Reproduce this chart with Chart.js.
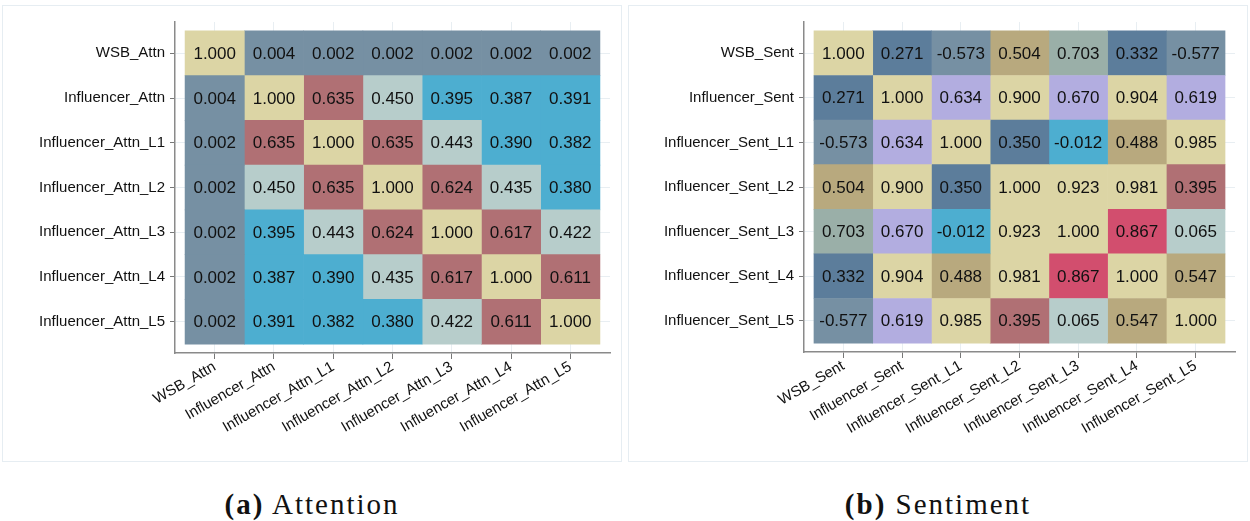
<!DOCTYPE html>
<html>
<head>
<meta charset="utf-8">
<title>Correlation heatmaps: Attention and Sentiment</title>
<script src="https://cdn.jsdelivr.net/npm/chart.js@4.4.1/dist/chart.umd.min.js"></script>
<style>
  html, body { margin: 0; padding: 0; background: #ffffff; }
  body { position: relative; width: 1250px; height: 521px; overflow: hidden; }
  .panel { position: absolute; top: 5px; width: 618px; height: 455px; border: 1px solid #e6edf2; }
  canvas { position: absolute; top: 5px; }
  .caption {
    position: absolute; top: 488px; width: 620px; text-align: center;
    font-family: "Liberation Serif", "DejaVu Serif", serif; font-size: 29px;
    letter-spacing: 2px; color: #111;
  }
  .caption b { font-weight: bold; }
</style>
</head>
<body>
<div class="panel" style="left:2px"></div>
<div class="panel" style="left:628px"></div>
<canvas id="attn" width="620" height="457" style="left:2px"></canvas>
<canvas id="sent" width="620" height="457" style="left:628px"></canvas>
<div class="caption" style="left:2px"><b>(a)</b> Attention</div>
<div class="caption" style="left:628px"><b>(b)</b> Sentiment</div>

<script>
// Variable names (rows and columns share the same order)
const attnLabels = ['WSB_Attn', 'Influencer_Attn', 'Influencer_Attn_L1', 'Influencer_Attn_L2',
                    'Influencer_Attn_L3', 'Influencer_Attn_L4', 'Influencer_Attn_L5'];
const sentLabels = ['WSB_Sent', 'Influencer_Sent', 'Influencer_Sent_L1', 'Influencer_Sent_L2',
                    'Influencer_Sent_L3', 'Influencer_Sent_L4', 'Influencer_Sent_L5'];

// Correlation matrix, attention measures
const attnMatrix = [
  [1.000, 0.004, 0.002, 0.002, 0.002, 0.002, 0.002],
  [0.004, 1.000, 0.635, 0.450, 0.395, 0.387, 0.391],
  [0.002, 0.635, 1.000, 0.635, 0.443, 0.390, 0.382],
  [0.002, 0.450, 0.635, 1.000, 0.624, 0.435, 0.380],
  [0.002, 0.395, 0.443, 0.624, 1.000, 0.617, 0.422],
  [0.002, 0.387, 0.390, 0.435, 0.617, 1.000, 0.611],
  [0.002, 0.391, 0.382, 0.380, 0.422, 0.611, 1.000]
];

// Correlation matrix, sentiment measures
const sentMatrix = [
  [ 1.000, 0.271, -0.573, 0.504,  0.703, 0.332, -0.577],
  [ 0.271, 1.000,  0.634, 0.900,  0.670, 0.904,  0.619],
  [-0.573, 0.634,  1.000, 0.350, -0.012, 0.488,  0.985],
  [ 0.504, 0.900,  0.350, 1.000,  0.923, 0.981,  0.395],
  [ 0.703, 0.670, -0.012, 0.923,  1.000, 0.867,  0.065],
  [ 0.332, 0.904,  0.488, 0.981,  0.867, 1.000,  0.547],
  [-0.577, 0.619,  0.985, 0.395,  0.065, 0.547,  1.000]
];

// Discrete colour bands: [upper bound, fill]
const attnBands = [
  [0.1, '#7690a3'], [0.4, '#4daed0'], [0.5, '#b7cdcb'], [0.9, '#b07074'], [Infinity, '#dcd5a5']
];
const sentBands = [
  [-0.3, '#7690a3'], [0.0, '#4daed0'], [0.2, '#b7cdcb'], [0.37, '#5c7d9b'], [0.45, '#b07074'],
  [0.6, '#b8a97e'], [0.69, '#b2ade0'], [0.8, '#9aafa8'], [0.89, '#d24e6e'], [Infinity, '#dcd5a5']
];

function bandColour(bands, v) {
  for (const [limit, colour] of bands) if (v < limit) return colour;
  return bands[bands.length - 1][1];
}

// Writes each cell's value at its centre
const cellValues = {
  id: 'cellValues',
  afterDatasetsDraw(chart) {
    const ctx = chart.ctx;
    ctx.save();
    ctx.font = '17px "Liberation Sans", Arial, sans-serif';
    ctx.fillStyle = '#111111';
    ctx.textAlign = 'center';
    ctx.textBaseline = 'middle';
    chart.data.datasets.forEach((ds, di) => {
      chart.getDatasetMeta(di).data.forEach((el, i) => {
        const c = el.getCenterPoint();
        ctx.fillText(ds.data[i].v.toFixed(3), c.x, c.y + 1);
      });
    });
    ctx.restore();
  }
};

function heatmap(canvasId, labels, matrix, bands, frame) {
  const n = labels.length;
  const datasets = labels.map((_, j) => ({
    data: matrix.map((row, i) => ({ x: [j, j + 1], y: i, v: row[j] })),
    backgroundColor: (c) => bandColour(bands, c.raw.v),
    borderWidth: 0,
    grouped: false,
    barPercentage: 1,
    categoryPercentage: 1
  }));

  const tickFont = { family: '"Liberation Sans", Arial, sans-serif', size: 15 };

  return new Chart(document.getElementById(canvasId), {
    type: 'bar',
    data: { datasets },
    options: {
      indexAxis: 'y',
      responsive: false,
      animation: false,
      devicePixelRatio: 1,
      layout: { padding: { left: 0, right: frame.right, top: frame.top, bottom: 0 } },
      plugins: { legend: { display: false }, tooltip: { enabled: false } },
      scales: {
        x: {
          type: 'linear',
          min: -0.17,
          max: n + 0.17,
          offset: false,
          afterBuildTicks: (s) => { s.ticks = labels.map((_, j) => ({ value: j + 0.5 })); },
          afterFit: (s) => { s.height = frame.xHeight; },
          ticks: {
            callback: (v) => labels[Math.round(v - 0.5)],
            autoSkip: false,
            minRotation: 30,
            maxRotation: 30,
            padding: -1,
            color: '#111111',
            font: tickFont
          },
          grid: { offset: false, color: '#e8eef2', tickColor: '#777777', tickLength: 6 },
          border: { color: '#8a8a8a', width: 1.5 }
        },
        y: {
          type: 'linear',
          reverse: true,
          min: -0.7,
          max: n - 1 + 0.7,
          offset: false,
          afterBuildTicks: (s) => { s.ticks = labels.map((_, i) => ({ value: i })); },
          afterFit: (s) => { s.width = frame.yWidth; },
          ticks: {
            callback: (v) => labels[Math.round(v)],
            autoSkip: false,
            padding: 5,
            color: '#111111',
            font: tickFont
          },
          grid: { offset: false, color: '#e8eef2', tickColor: '#777777', tickLength: 5 },
          border: { color: '#8a8a8a', width: 1.5 }
        }
      }
    },
    plugins: [cellValues]
  });
}

heatmap('attn', attnLabels, attnMatrix, attnBands, { right: 12, top: 17, yWidth: 173, xHeight: 109 });
heatmap('sent', sentLabels, sentMatrix, sentBands, { right: 13, top: 17, yWidth: 176, xHeight: 110 });
</script>
</body>
</html>
